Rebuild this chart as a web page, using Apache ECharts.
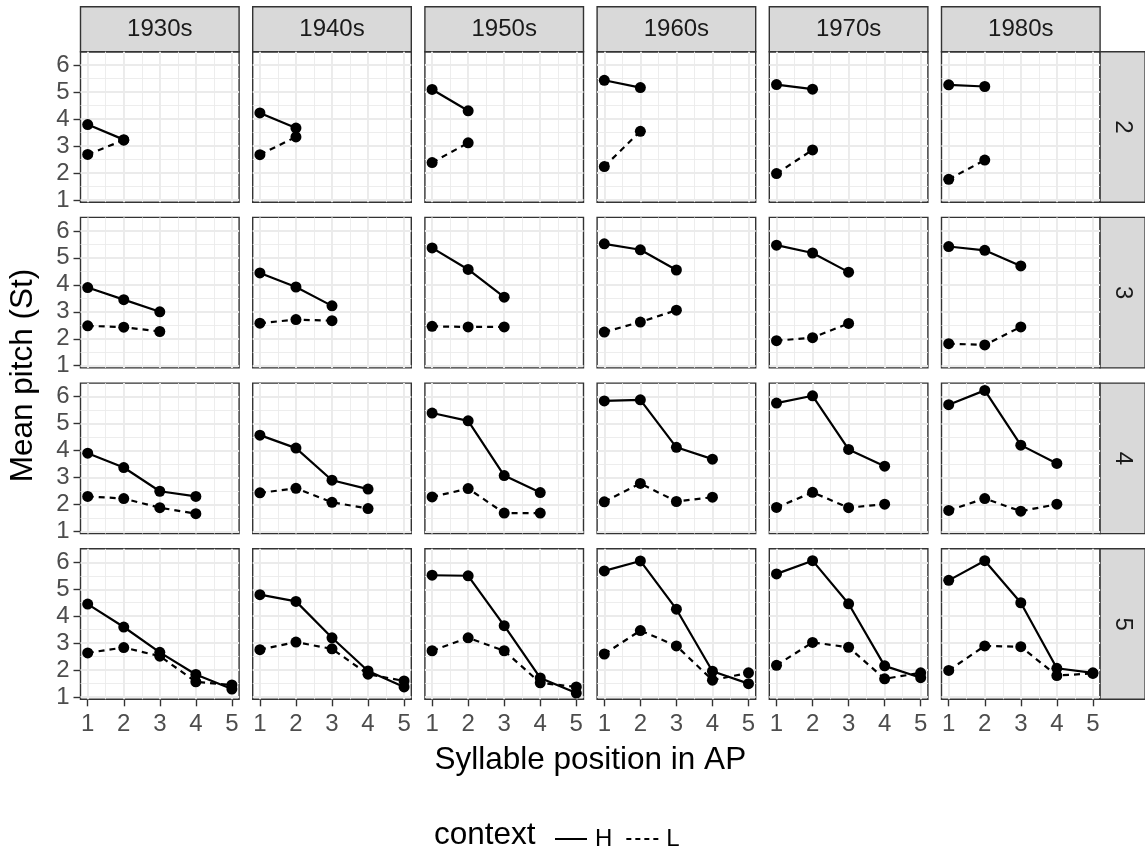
<!DOCTYPE html>
<html>
<head>
<meta charset="utf-8">
<script src="https://cdn.jsdelivr.net/npm/echarts@6/dist/echarts.min.js"></script>
<style>
html,body{margin:0;padding:0;background:#fff;}
#chart{width:1145px;height:854px;}
</style>
</head>
<body>
<div id="chart"></div>
<script>
// ---- data ----
const decades = ['1930s', '1940s', '1950s', '1960s', '1970s', '1980s'];
const apLengths = ['2', '3', '4', '5'];
const xTicks = [1, 2, 3, 4, 5];
const yTicks = [1, 2, 3, 4, 5, 6];
const contexts = ['H', 'L'];

// mean pitch per decade (rows of each array = decades), syllable positions 1..n
const H_ap2 = [[3.80, 3.24], [4.23, 3.67], [5.10, 4.31], [5.44, 5.17], [5.28, 5.11], [5.27, 5.21]];
const L_ap2 = [[2.69, 3.22], [2.68, 3.34], [2.39, 3.12], [2.24, 3.55], [1.98, 2.86], [1.77, 2.48]];

const H_ap3 = [[3.90, 3.45, 3.00], [4.44, 3.92, 3.22], [5.37, 4.57, 3.54], [5.52, 5.30, 4.55], [5.47, 5.18, 4.47], [5.42, 5.28, 4.70]];
const L_ap3 = [[2.48, 2.43, 2.27], [2.58, 2.71, 2.67], [2.46, 2.44, 2.44], [2.25, 2.62, 3.06], [1.93, 2.04, 2.57], [1.82, 1.77, 2.44]];

const H_ap4 = [[3.90, 3.37, 2.49, 2.30], [4.57, 4.09, 2.90, 2.57], [5.39, 5.10, 3.07, 2.44], [5.84, 5.88, 4.12, 3.68], [5.76, 6.03, 4.04, 3.42], [5.70, 6.23, 4.20, 3.52]];
const L_ap4 = [[2.30, 2.22, 1.88, 1.66], [2.43, 2.60, 2.08, 1.85], [2.28, 2.59, 1.68, 1.68], [2.10, 2.78, 2.11, 2.27], [1.89, 2.45, 1.88, 2.01], [1.78, 2.22, 1.75, 2.01]];

const H_ap5 = [[4.45, 3.60, 2.66, 1.84, 1.30], [4.80, 4.55, 3.20, 1.97, 1.38], [5.52, 5.50, 3.65, 1.71, 1.15], [5.68, 6.05, 4.26, 1.96, 1.50], [5.57, 6.06, 4.46, 2.16, 1.72], [5.33, 6.06, 4.50, 2.07, 1.90]];
const L_ap5 = [[2.64, 2.84, 2.52, 1.57, 1.45], [2.76, 3.04, 2.79, 1.85, 1.60], [2.72, 3.20, 2.72, 1.53, 1.38], [2.60, 3.47, 2.90, 1.63, 1.90], [2.18, 3.03, 2.85, 1.68, 1.90], [1.99, 2.90, 2.87, 1.80, 1.88]];

const H_rows = [H_ap2, H_ap3, H_ap4, H_ap5];
const L_rows = [L_ap2, L_ap3, L_ap4, L_ap5];

// ---- layout ----
const L0 = 80.5, STEPX = 172.2, PW = 158.6;
const T0 = 51.7, STEPY = 165.7, PH = 150.5;
const STRIP = 45;
const X_MIN = 0.8, X_MAX = 5.2, Y_MIN = 0.92, Y_MAX = 6.5;
const majorX = [1, 2, 3, 4, 5], minorX = [1.5, 2.5, 3.5, 4.5];
const majorY = [1, 2, 3, 4, 5, 6], minorY = [1.5, 2.5, 3.5, 4.5, 5.5];

const FONT = 'Liberation Sans, Arial, sans-serif';
const TICK_FONT = 24, TITLE_FONT = 31.5;
const grids = [], xAxes = [], yAxes = [], series = [], graphics = [];

const nCols = decades.length, nRows = apLengths.length;
for (let r = 0; r < nRows; r++) {
  for (let c = 0; c < nCols; c++) {
    const gi = r * nCols + c;
    grids.push({
      left: L0 + c * STEPX, top: T0 + r * STEPY, width: PW, height: PH,
      show: true, backgroundColor: '#fff', borderColor: '#333333', borderWidth: 1.4, containLabel: false
    });
    const bottom = r === nRows - 1, leftCol = c === 0;
    xAxes.push({
      type: 'value', gridIndex: gi, min: X_MIN, max: X_MAX,
      axisLine: { show: false }, splitLine: { show: false },
      axisTick: { show: bottom, customValues: xTicks, length: 7, lineStyle: { color: '#333333', width: 1.4 } },
      axisLabel: { show: bottom, customValues: xTicks, color: '#4D4D4D', fontSize: TICK_FONT, margin: 13, fontFamily: FONT }
    });
    yAxes.push({
      type: 'value', gridIndex: gi, min: Y_MIN, max: Y_MAX,
      axisLine: { show: false }, splitLine: { show: false },
      axisTick: { show: leftCol, customValues: yTicks, length: 7, lineStyle: { color: '#333333', width: 1.4 } },
      axisLabel: { show: leftCol, customValues: yTicks, color: '#4D4D4D', fontSize: TICK_FONT, margin: 11, fontFamily: FONT }
    });
    // panel grid lines
    const gl = [];
    minorX.forEach(v => gl.push({ xAxis: v, lineStyle: { width: 0.9 } }));
    minorY.forEach(v => gl.push({ yAxis: v, lineStyle: { width: 0.9 } }));
    majorX.forEach(v => gl.push({ xAxis: v, lineStyle: { width: 1.9 } }));
    majorY.forEach(v => gl.push({ yAxis: v, lineStyle: { width: 1.9 } }));
    series.push({
      type: 'line', name: '_grid', xAxisIndex: gi, yAxisIndex: gi, data: [], z: 1, silent: true,
      markLine: { z: 1, silent: true, symbol: ['none', 'none'], label: { show: false }, animation: false,
        lineStyle: { color: '#EBEBEB', type: 'solid' }, data: gl }
    });
    const hData = H_rows[r][c].map((v, i) => [xTicks[i], v]);
    const lData = L_rows[r][c].map((v, i) => [xTicks[i], v]);
    series.push({
      type: 'line', name: contexts[0], xAxisIndex: gi, yAxisIndex: gi, z: 4,
      data: hData, showSymbol: false, symbol: 'none', color: '#000',
      lineStyle: { color: '#000', width: 2.2, type: 'solid' }, animation: false
    });
    series.push({
      type: 'line', name: contexts[1], xAxisIndex: gi, yAxisIndex: gi, z: 3,
      data: lData, showSymbol: false, symbol: 'none', color: '#000',
      lineStyle: { color: '#000', width: 2.2, type: [6, 5] }, animation: false
    });
    series.push({
      type: 'scatter', name: 'pts_' + contexts[1], xAxisIndex: gi, yAxisIndex: gi, z: 5,
      data: lData, symbol: 'circle', symbolSize: 11, itemStyle: { color: '#000', opacity: 1, borderWidth: 0 }, animation: false
    });
    series.push({
      type: 'scatter', name: 'pts_' + contexts[0], xAxisIndex: gi, yAxisIndex: gi, z: 6,
      data: hData, symbol: 'circle', symbolSize: 11, itemStyle: { color: '#000', opacity: 1, borderWidth: 0 }, animation: false
    });
  }
}

// strips
decades.forEach((d, c) => {
  const x = L0 + c * STEPX;
  graphics.push({ type: 'rect', shape: { x: x, y: T0 - STRIP, width: PW, height: STRIP },
    style: { fill: '#D9D9D9', stroke: '#333333', lineWidth: 1.4 } });
  graphics.push({ type: 'text', x: x + PW / 2, y: T0 - STRIP / 2,
    style: { text: d, fill: '#1A1A1A', fontSize: TICK_FONT, fontFamily: FONT, textAlign: 'center', textVerticalAlign: 'middle' } });
});
const RX = L0 + (nCols - 1) * STEPX + PW;
apLengths.forEach((a, r) => {
  const y = T0 + r * STEPY;
  graphics.push({ type: 'rect', shape: { x: RX, y: y, width: STRIP, height: PH },
    style: { fill: '#D9D9D9', stroke: '#333333', lineWidth: 1.4 } });
  graphics.push({ type: 'text', x: RX + STRIP / 2, y: y + PH / 2, rotation: -Math.PI / 2,
    style: { text: a, fill: '#1A1A1A', fontSize: TICK_FONT, fontFamily: FONT, textAlign: 'center', textVerticalAlign: 'middle' } });
});
const panelsMidX = (L0 + RX) / 2;
const panelsMidY = (T0 + T0 + (nRows - 1) * STEPY + PH) / 2;
// axis titles
graphics.push({ type: 'text', x: 23, y: panelsMidY, rotation: Math.PI / 2,
  style: { text: 'Mean pitch (St)', fill: '#000', fontSize: TITLE_FONT, fontFamily: FONT, textAlign: 'center', textVerticalAlign: 'middle' } });
graphics.push({ type: 'text', x: panelsMidX, y: 760,
  style: { text: 'Syllable position in AP', fill: '#000', fontSize: TITLE_FONT, fontFamily: FONT, textAlign: 'center', textVerticalAlign: 'middle' } });
graphics.push({ type: 'text', x: 434, y: 835,
  style: { text: 'context', fill: '#000', fontSize: TITLE_FONT, fontFamily: FONT, textAlign: 'left', textVerticalAlign: 'middle' } });

const solidIcon = 'path://M0,0h32v2h-32z';
const dashIcon = 'path://M0,0h5v2h-5zM9,0h5v2h-5zM18,0h5v2h-5zM27,0h5v2h-5z';

const chart = echarts.init(document.getElementById('chart'), null, { renderer: 'canvas' });
chart.setOption({
  animation: false,
  backgroundColor: '#fff',
  grid: grids, xAxis: xAxes, yAxis: yAxes, series: series,
  legend: {
    data: [{ name: contexts[0], icon: solidIcon }, { name: contexts[1], icon: dashIcon }],
    left: 550, top: 822, itemWidth: 32, itemHeight: 2.4, itemGap: 14, selectedMode: false,
    textStyle: { color: '#000', fontSize: TICK_FONT, fontFamily: FONT, padding: [0, 0, 0, 3] }
  },
  graphic: graphics
});
</script>
</body>
</html>
